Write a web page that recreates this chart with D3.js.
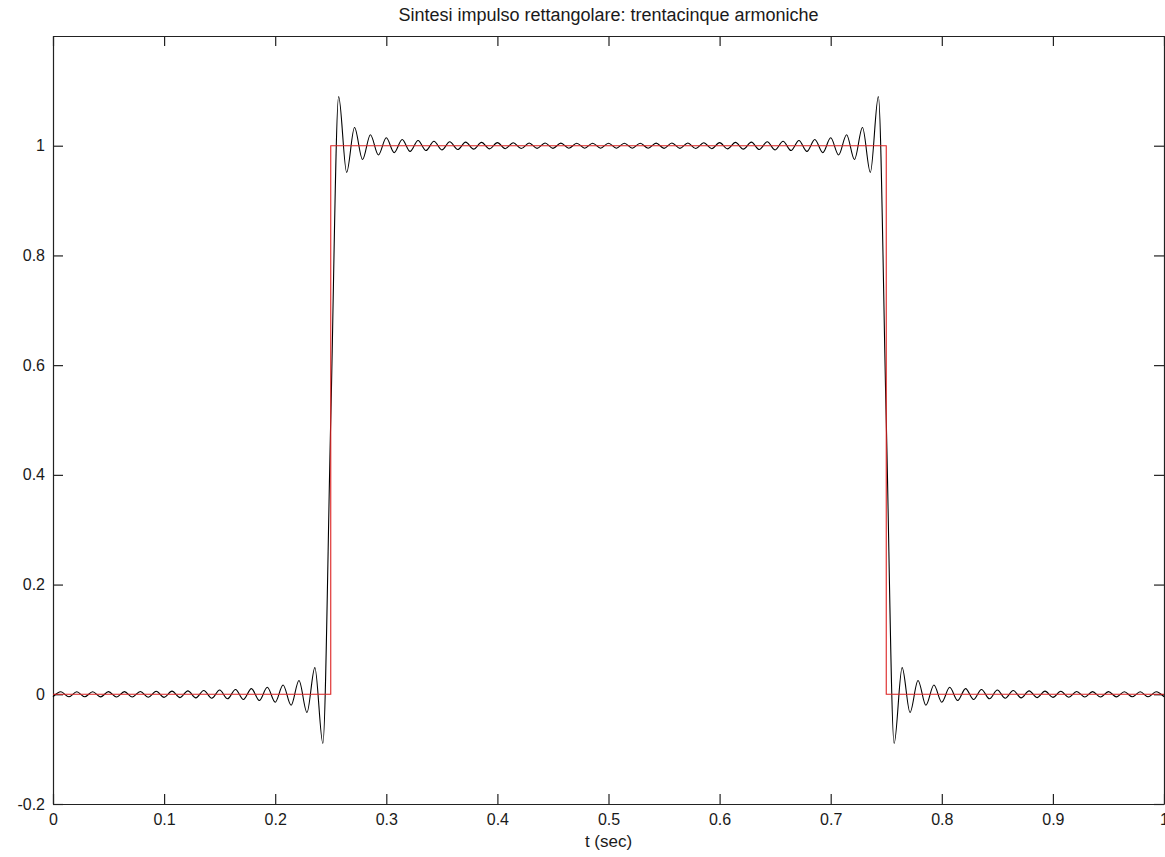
<!DOCTYPE html>
<html>
<head>
<meta charset="utf-8">
<script src="https://cdn.jsdelivr.net/npm/d3@7"></script>
<style>
    body { margin: 0; background: #ffffff; }
    svg text { font-family: "Liberation Sans", Arial, sans-serif; fill: #1a1a1a; }
</style>
</head>
<body>
<svg id="chart" width="1165" height="857"></svg>
<script>

//  values: extrema of the 35 harmonic synthesis + the two edge midpoints
var synth_t = [
    0.0000, 0.0071, 0.0143, 0.0214, 0.0286, 0.0357, 0.0429, 0.0500, 0.0571, 0.0643,
    0.0714, 0.0786, 0.0857, 0.0929, 0.1000, 0.1071, 0.1143, 0.1214, 0.1286, 0.1357,
    0.1429, 0.1500, 0.1571, 0.1643, 0.1714, 0.1786, 0.1857, 0.1929, 0.2000, 0.2071,
    0.2143, 0.2214, 0.2286, 0.2357, 0.2429, 0.2500, 0.2571, 0.2643, 0.2714, 0.2786,
    0.2857, 0.2929, 0.3000, 0.3071, 0.3143, 0.3214, 0.3286, 0.3357, 0.3429, 0.3500,
    0.3571, 0.3643, 0.3714, 0.3786, 0.3857, 0.3929, 0.4000, 0.4071, 0.4143, 0.4214,
    0.4286, 0.4357, 0.4429, 0.4500, 0.4571, 0.4643, 0.4714, 0.4786, 0.4857, 0.4929,
    0.5000, 0.5071, 0.5143, 0.5214, 0.5286, 0.5357, 0.5429, 0.5500, 0.5571, 0.5643,
    0.5714, 0.5786, 0.5857, 0.5929, 0.6000, 0.6071, 0.6143, 0.6214, 0.6286, 0.6357,
    0.6429, 0.6500, 0.6571, 0.6643, 0.6714, 0.6786, 0.6857, 0.6929, 0.7000, 0.7071,
    0.7143, 0.7214, 0.7286, 0.7357, 0.7429, 0.7500, 0.7571, 0.7643, 0.7714, 0.7786,
    0.7857, 0.7929, 0.8000, 0.8071, 0.8143, 0.8214, 0.8286, 0.8357, 0.8429, 0.8500,
    0.8571, 0.8643, 0.8714, 0.8786, 0.8857, 0.8929, 0.9000, 0.9071, 0.9143, 0.9214,
    0.9286, 0.9357, 0.9429, 0.9500, 0.9571, 0.9643, 0.9714, 0.9786, 0.9857, 0.9929,
    1.0000
];

var synth_x = [
    -0.0045, 0.0045, -0.0046, 0.0046, -0.0046, 0.0047, -0.0047, 0.0048, -0.0049, 0.0049,
    -0.0050, 0.0052, -0.0053, 0.0054, -0.0056, 0.0058, -0.0060, 0.0063, -0.0065, 0.0069,
    -0.0072, 0.0077, -0.0082, 0.0088, -0.0095, 0.0103, -0.0114, 0.0127, -0.0144, 0.0168,
    -0.0201, 0.0251, -0.0331, 0.0486, -0.0895, 0.5000, 1.0895, 0.9514, 1.0331, 0.9749,
    1.0201, 0.9832, 1.0144, 0.9873, 1.0114, 0.9897, 1.0095, 0.9912, 1.0082, 0.9923,
    1.0072, 0.9931, 1.0065, 0.9937, 1.0060, 0.9942, 1.0056, 0.9946, 1.0053, 0.9948,
    1.0050, 0.9951, 1.0049, 0.9952, 1.0047, 0.9953, 1.0046, 0.9954, 1.0046, 0.9955,
    1.0045, 0.9955, 1.0046, 0.9954, 1.0046, 0.9953, 1.0047, 0.9952, 1.0049, 0.9951,
    1.0050, 0.9948, 1.0053, 0.9946, 1.0056, 0.9942, 1.0060, 0.9937, 1.0065, 0.9931,
    1.0072, 0.9923, 1.0082, 0.9912, 1.0095, 0.9897, 1.0114, 0.9873, 1.0144, 0.9832,
    1.0201, 0.9749, 1.0331, 0.9514, 1.0895, 0.5000, -0.0895, 0.0486, -0.0331, 0.0251,
    -0.0201, 0.0168, -0.0144, 0.0127, -0.0114, 0.0103, -0.0095, 0.0088, -0.0082, 0.0077,
    -0.0072, 0.0069, -0.0065, 0.0063, -0.0060, 0.0058, -0.0056, 0.0054, -0.0053, 0.0052,
    -0.0050, 0.0049, -0.0049, 0.0048, -0.0047, 0.0047, -0.0046, 0.0046, -0.0046, 0.0045,
    -0.0045
];

//  ideal rectangular pulse (corners)
var pulse_t = [0, 0.25, 0.25, 0.75, 0.75, 1];
var pulse_x = [0, 0, 1, 1, 0, 0];

var x_ticks = [0, 0.1, 0.2, 0.3, 0.4, 0.5, 0.6, 0.7, 0.8, 0.9, 1];
var x_tick_labels = ['0', '0.1', '0.2', '0.3', '0.4', '0.5', '0.6', '0.7', '0.8', '0.9', '1'];
var y_ticks = [-0.2, 0, 0.2, 0.4, 0.6, 0.8, 1];
var y_tick_labels = ['-0.2', '0', '0.2', '0.4', '0.6', '0.8', '1'];

var title_text = 'Sintesi impulso rettangolare: trentacinque armoniche';
var x_label_text = 't (sec)';

var margin = { top: 36, right: 1, bottom: 53, left: 53 };
var width = 1165 - margin.left - margin.right;
var height = 857 - margin.top - margin.bottom;
var tick_len = 10;


main();


function main() {

    var svg = d3.select('#chart');

    var g = svg.append('g')
        .attr('transform', 'translate(' + margin.left + ',' + margin.top + ')');

    var x = d3.scaleLinear().domain([0, 1]).range([0, width]);
    var y = d3.scaleLinear().domain([-0.2, 1.2]).range([height, 0]);

    drawAxes(g, x, y);

    var synth = synth_t.map(function(t, i) { return [t, synth_x[i]]; });
    var pulse = pulse_t.map(function(t, i) { return [t, pulse_x[i]]; });

    var synthLine = d3.line()
        .x(function(d) { return x(d[0]); })
        .y(function(d) { return y(d[1]); })
        .curve(d3.curveMonotoneX);

    var pulseLine = d3.line()
        .x(function(d) { return x(d[0]); })
        .y(function(d) { return y(d[1]); });

    g.append('path')
        .datum(synth)
        .attr('fill', 'none')
        .attr('stroke', '#000000')
        .attr('stroke-width', 1.1)
        .attr('d', synthLine);

    g.append('path')
        .datum(pulse)
        .attr('fill', 'none')
        .attr('stroke', '#dc2222')
        .attr('stroke-width', 1.1)
        .attr('d', pulseLine);

    svg.append('text')
        .attr('x', margin.left + width / 2)
        .attr('y', 21)
        .attr('text-anchor', 'middle')
        .style('font-size', '18px')
        .text(title_text);

    svg.append('text')
        .attr('x', margin.left + width / 2)
        .attr('y', 847)
        .attr('text-anchor', 'middle')
        .style('font-size', '17px')
        .text(x_label_text);
}


function drawAxes(g, x, y) {

    //  ticks point inward on all four sides (box on)
    var bottom = d3.axisBottom(x)
        .tickValues(x_ticks)
        .tickFormat(function(d, i) { return x_tick_labels[i]; })
        .tickSizeInner(-tick_len).tickSizeOuter(0).tickPadding(10);

    var top = d3.axisTop(x)
        .tickValues(x_ticks)
        .tickFormat('')
        .tickSizeInner(-tick_len).tickSizeOuter(0);

    var left = d3.axisLeft(y)
        .tickValues(y_ticks)
        .tickFormat(function(d, i) { return y_tick_labels[i]; })
        .tickSizeInner(-tick_len).tickSizeOuter(0).tickPadding(8);

    var right = d3.axisRight(y)
        .tickValues(y_ticks)
        .tickFormat('')
        .tickSizeInner(-tick_len).tickSizeOuter(0);

    var axes = [
        g.append('g').attr('transform', 'translate(0,' + height + ')').call(bottom),
        g.append('g').call(top),
        g.append('g').call(left),
        g.append('g').attr('transform', 'translate(' + width + ',0)').call(right)
    ];

    axes.forEach(function(a) {
        a.selectAll('path.domain').attr('stroke', '#222222').attr('stroke-width', 1.2);
        a.selectAll('.tick line').attr('stroke', '#222222').attr('stroke-width', 1.2);
        a.selectAll('.tick text')
            .style('font-family', '"Liberation Sans", Arial, sans-serif')
            .style('font-size', '16px')
            .attr('fill', '#1a1a1a');
    });
}

</script>
</body>
</html>
